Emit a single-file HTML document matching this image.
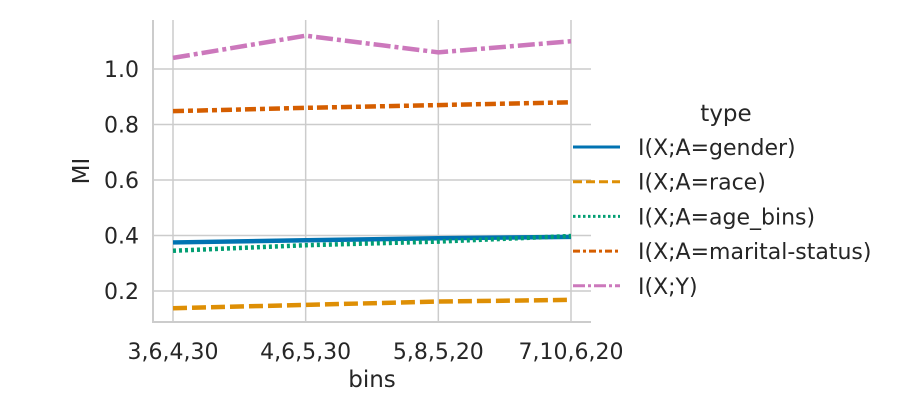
<!DOCTYPE html>
<html><head><meta charset="utf-8"><style>
body{margin:0;background:#fff;}
svg{display:block;font-family:"DejaVu Sans","Liberation Sans",sans-serif;}
</style></head><body>
<svg id="chart" width="900" height="400">
<g id="grid"></g><g id="axes"></g><g id="series"></g><g id="legend"></g>
</svg>
<script>
const categories=["3,6,4,30","4,6,5,30","5,8,5,20","7,10,6,20"];
const yTicks=[0.2,0.4,0.6,0.8,1.0];
const seriesNames=["I(X;A=gender)","I(X;A=race)","I(X;A=age_bins)","I(X;A=marital-status)","I(X;Y)"];
const gender=[0.375,0.383,0.390,0.395];
const race=[0.138,0.150,0.162,0.168];
const ageBins=[0.345,0.365,0.378,0.398];
const marital=[0.848,0.860,0.870,0.880];
const ixy=[1.040,1.120,1.060,1.100];
const allSeries=[gender,race,ageBins,marital,ixy];
const colors=["#0173b2","#de8f05","#029e73","#d55e00","#cc78bc"];
const dashes=["none","14,5","3,3","11,4,5,4","17,4,4,4"];
const legDashes=["none","9,4","2.5,2.5","7,3,3,3","12,3,3,3"];
const NS="http://www.w3.org/2000/svg";
const L=153,R=591,T=20,B=322;
const x=i=>173+i*(571-173)/(categories.length-1);
const y=v=>291-(v-0.2)*277.5;
function mk(tag,attrs,parent,text){const e=document.createElementNS(NS,tag);for(const k in attrs)e.setAttribute(k,attrs[k]);if(text!==undefined)e.textContent=text;parent.appendChild(e);return e;}
const grid=document.getElementById('grid'),axes=document.getElementById('axes'),ser=document.getElementById('series'),leg=document.getElementById('legend');
categories.forEach((c,i)=>{
 const g=mk('line',{x1:x(i),x2:x(i),y1:T,y2:B,stroke:'#cccccc','stroke-width':1.5},grid);
 
 
 const t=mk('text',{x:x(i),y:359,'text-anchor':'middle','font-size':22,fill:'#262626'},axes,c);
 
 
});
yTicks.forEach(v=>{
 const g=mk('line',{x1:L,x2:R,y1:y(v),y2:y(v),stroke:'#cccccc','stroke-width':1.5},grid);
 
 
 const t=mk('text',{x:139,y:y(v)+8,'text-anchor':'end','font-size':22,fill:'#262626'},axes,v.toFixed(1));
 
 
});
const s1=mk('line',{x1:L,x2:L,y1:T,y2:B+1,stroke:'#cccccc','stroke-width':2},axes);


const s2=mk('line',{x1:L-1,x2:R,y1:B,y2:B,stroke:'#cccccc','stroke-width':2},axes);


const xt=mk('text',{x:372,y:387,'text-anchor':'middle','font-size':23,fill:'#262626'},axes,'bins');


const yt=mk('text',{x:89,y:171,'text-anchor':'middle','font-size':23,fill:'#262626',transform:'rotate(-90 89 171)'},axes,'MI');


allSeries.forEach((vals,s)=>{
 const p=mk('polyline',{points:vals.map((v,i)=>x(i)+','+y(v)).join(' '),fill:'none',stroke:colors[s],'stroke-width':4.5,'stroke-dasharray':dashes[s]},ser);
 
 
});
const lt=mk('text',{x:726,y:121,'text-anchor':'middle','font-size':23,fill:'#262626'},leg,'type');


seriesNames.forEach((n,s)=>{
 const yy=147+s*34.7;
 const g=mk('g',{},leg);
 
 
 mk('line',{x1:573,x2:620,y1:yy,y2:yy,stroke:colors[s],'stroke-width':3,'stroke-dasharray':legDashes[s]},g);
 mk('text',{x:638,y:yy+8,'font-size':22,fill:'#262626'},g,n);
});
</script>
</body></html>
